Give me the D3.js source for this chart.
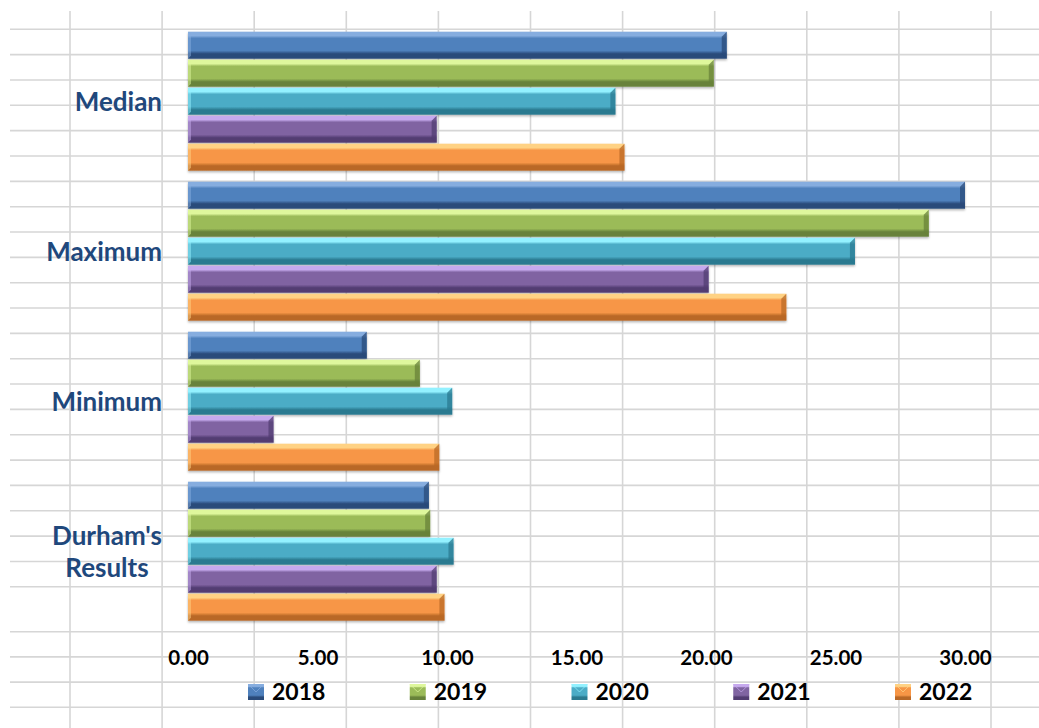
<!DOCTYPE html>
<html>
<head>
<meta charset="utf-8">
<script src="https://cdn.jsdelivr.net/npm/d3@7/dist/d3.min.js"></script>
<style>
html,body{margin:0;padding:0;background:#fff;}
svg{display:block;}
</style>
</head>
<body>
<svg id="chart" width="1039" height="728"></svg>
<script>
// ---- data ----
const categories = ["Median", "Maximum", "Minimum", "Durham's Results"];
const years = ["2018", "2019", "2020", "2021", "2022"];
const values2018 = [20.8, 30.0, 6.9, 9.3];
const values2019 = [20.3, 28.6, 8.95, 9.35];
const values2020 = [16.5, 25.75, 10.2, 10.25];
const values2021 = [9.6, 20.1, 3.3, 9.6];
const values2022 = [16.85, 23.1, 9.7, 9.9];
const xTicks = [0, 5, 10, 15, 20, 25, 30];

const seriesValues = [values2018, values2019, values2020, values2021, values2022];
const palette = [
  {base:"#4F81BD", light:"#86addf", dark:"#2a4b7a"},
  {base:"#9BBB59", light:"#def79c", dark:"#67823a"},
  {base:"#4BACC6", light:"#93f1ff", dark:"#2a7a90"},
  {base:"#8064A2", light:"#c6a9ee", dark:"#523c72"},
  {base:"#F79646", light:"#ffd284", dark:"#b96826"}
];

const svg = d3.select("#chart");
const W = 1039, H = 728;

// ---- spreadsheet grid background ----
const gridColor = "#d6d6d6";
const vLines = d3.range(11).map(i => 70 + i * 92.1);
const hLines = d3.range(23).map(i => 29.3 + i * 25.34).concat([631.7, 656.9, 682.1, 707.3]);
const grid = svg.append("g");
grid.selectAll("line.h").data(hLines).join("line")
  .attr("x1", 10).attr("x2", W).attr("y1", d => d).attr("y2", d => d)
  .attr("stroke", gridColor).attr("stroke-width", 1.6);
grid.selectAll("line.v").data(vLines).join("line")
  .attr("y1", 11).attr("y2", H).attr("x1", d => d).attr("x2", d => d)
  .attr("stroke", gridColor).attr("stroke-width", 1.6);

// ---- scales ----
const x = d3.scaleLinear().domain([0, 30]).range([188, 965]);
const y = d3.scaleBand().domain(categories).range([26.7, 626.7]).paddingInner(0.0667).paddingOuter(0.0333);
const yInner = d3.scaleBand().domain(years).range([0, y.bandwidth()]);

// ---- gradients ----
const defs = svg.append("defs");
palette.forEach((p, i) => {
  const g = defs.append("linearGradient").attr("id", "grad" + i)
    .attr("x1", 0).attr("y1", 0).attr("x2", 0).attr("y2", 1);
  g.append("stop").attr("offset", "0%").attr("stop-color", p.light);
  g.append("stop").attr("offset", "15%").attr("stop-color", p.light);
  g.append("stop").attr("offset", "24%").attr("stop-color", p.base);
  g.append("stop").attr("offset", "70%").attr("stop-color", p.base);
  g.append("stop").attr("offset", "82%").attr("stop-color", p.dark);
  g.append("stop").attr("offset", "100%").attr("stop-color", p.dark);
});
const sh = defs.append("filter").attr("id", "shadow").attr("x", "-5%").attr("y", "-20%").attr("width", "110%").attr("height", "150%");
sh.append("feDropShadow").attr("dx", 0).attr("dy", 1.5).attr("stdDeviation", 1.2).attr("flood-color", "#000").attr("flood-opacity", 0.3);

// ---- bars ----
const rows = [];
categories.forEach((c, ci) => {
  years.forEach((yr, si) => rows.push({cat: c, year: yr, si, v: seriesValues[si][ci]}));
});
const barG = svg.append("g");
const bars = barG.selectAll("g.bar").data(rows).join("g").attr("class", "bar")
  .attr("filter", "url(#shadow)");
bars.append("rect")
  .attr("x", x(0))
  .attr("y", d => y(d.cat) + yInner(d.year))
  .attr("width", d => x(d.v) - x(0))
  .attr("height", yInner.bandwidth() - 1)
  .attr("fill", d => `url(#grad${d.si})`);
// right end bevel
bars.append("polygon")
  .attr("points", d => {
    const x1 = x(d.v), y0 = y(d.cat) + yInner(d.year), h = yInner.bandwidth() - 1, b = 5;
    return [[x1 - b, y0 + b], [x1, y0], [x1, y0 + h], [x1 - b, y0 + h - b]].map(p => p.join(",")).join(" ");
  })
  .attr("fill", d => palette[d.si].dark).attr("opacity", 0.75);
// left edge bevel
bars.append("polygon")
  .attr("points", d => {
    const x0 = x(0), y0 = y(d.cat) + yInner(d.year), h = yInner.bandwidth() - 1, b = 3;
    return [[x0, y0], [x0 + b, y0 + b], [x0 + b, y0 + h - b], [x0, y0 + h]].map(p => p.join(",")).join(" ");
  })
  .attr("fill", d => palette[d.si].light).attr("opacity", 0.5);

// ---- category labels ----
const labelColor = "#1f487c";
const catLines = {"Median": ["Median"], "Maximum": ["Maximum"], "Minimum": ["Minimum"], "Durham's Results": ["Durham's", "Results"]};
const catG = svg.append("g");
categories.forEach(c => {
  const lines = catLines[c];
  const cy = y(c) + y.bandwidth() / 2;
  const t = catG.append("text")
    .attr("font-family", "Lato, 'Open Sans', sans-serif")
    .attr("font-weight", "bold")
    .attr("font-size", 26)
    .attr("fill", labelColor)
    .attr("text-anchor", "end");
  if (lines.length === 1) {
    t.attr("x", 162).attr("y", cy).attr("dy", "0.35em").text(lines[0]);
  } else {
    t.attr("text-anchor", "middle");
    lines.forEach((ln, i) => {
      t.append("tspan").attr("x", 107).attr("y", cy + (i - 0.5) * 32).attr("dy", "0.35em").text(ln);
    });
  }
});

// ---- x axis ----
const axis = d3.axisBottom(x).tickValues(xTicks).tickFormat(d3.format(".2f")).tickSize(0).tickPadding(0);
const axG = svg.append("g").attr("transform", "translate(0,650)").call(axis);
axG.select(".domain").remove();
axG.selectAll("text")
  .attr("font-family", "Lato, 'Open Sans', sans-serif")
  .attr("font-weight", "bold")
  .attr("font-size", 20.5)
  .attr("fill", "#000")
  .attr("dy", "0.71em");

// ---- legend ----
const legG = svg.append("g");
const lx = d3.scalePoint().domain(years).range([248, 895]);
const li = legG.selectAll("g").data(years).join("g")
  .attr("transform", d => `translate(${lx(d)},684)`);
li.append("rect").attr("width", 16).attr("height", 16)
  .attr("fill", (d, i) => `url(#grad${i})`);
li.append("path").attr("d", "M0,0 L8,8 L16,0").attr("fill", "none")
  .attr("stroke", (d, i) => palette[i].light).attr("stroke-width", 1).attr("opacity", 0.7);
li.append("text").attr("x", 24).attr("y", 15.5)
  .attr("font-family", "Lato, 'Open Sans', sans-serif")
  .attr("font-weight", "bold")
  .attr("font-size", 23)
  .attr("fill", "#000")
  .text(d => d);
</script>
</body>
</html>
